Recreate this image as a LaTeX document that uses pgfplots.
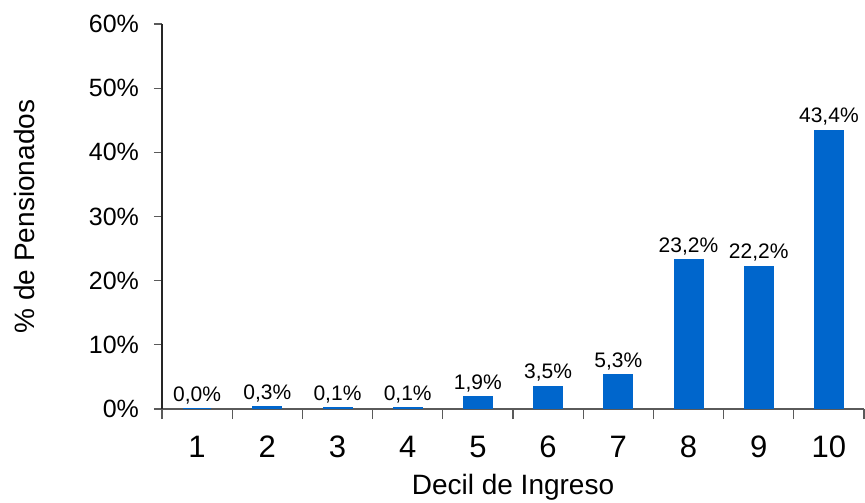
\documentclass[border=0pt]{standalone}
\usepackage{fontspec}
\setmainfont{Liberation Sans}
\usepackage{pgfplots}
\pgfplotsset{compat=1.18}
\definecolor{barblue}{RGB}{0,102,204}
\definecolor{axisgray}{RGB}{90,90,90}
\begin{document}
\begin{tikzpicture}
\useasboundingbox (-81pt,-46.5pt) rectangle (351.5pt,204.5pt);
\begin{axis}[
  at={(0,0)}, anchor=south west,
  scale only axis,
  width=351pt, height=192.5pt,
  xmin=0.5, xmax=10.5,
  ymin=0, ymax=60,
  axis x line=bottom, axis y line=left,
  axis line style={-, line width=0.6pt},
  x axis line style={axisgray},
  y axis line style={black!85},
  xtick={1,...,10},
  major x tick style={draw=none},
  minor xtick={0.5,1.5,...,10.5},
  minor x tick style={axisgray, line width=0.6pt},
  ytick={0,10,...,60},
  y tick style={axisgray, line width=0.6pt},
  tick align=outside,
  minor tick length=5pt,
  major tick length=4pt,
  yticklabel={\pgfmathprintnumber{\tick}\%},
  /pgf/number format/assume math mode=true,
  yticklabel style={font=\fontsize{12.5}{14}\selectfont, xshift=-4pt},
  xticklabel style={font=\fontsize{15.5}{18}\selectfont, yshift=-6pt},
  xlabel={Decil de Ingreso},
  ylabel={\% de Pensionados},
  xlabel style={font=\fontsize{14}{16}\selectfont, yshift=-1pt},
  ylabel style={font=\fontsize{14}{16}\selectfont, yshift=20pt},
  ybar, bar width=14pt,
  nodes near coords={\pgfmathprintnumber[fixed, fixed zerofill, precision=1, use comma]{\pgfplotspointmeta}\%},
  nodes near coords style={font=\fontsize{10.5}{12}\selectfont, black, inner sep=2pt},
]
\addplot[fill=barblue, draw=barblue, line width=1pt] coordinates {
  (1,0.0) (2,0.3) (3,0.1) (4,0.1) (5,1.9)
  (6,3.5) (7,5.3) (8,23.2) (9,22.2) (10,43.4)
};
\end{axis}
\end{tikzpicture}
\end{document}
